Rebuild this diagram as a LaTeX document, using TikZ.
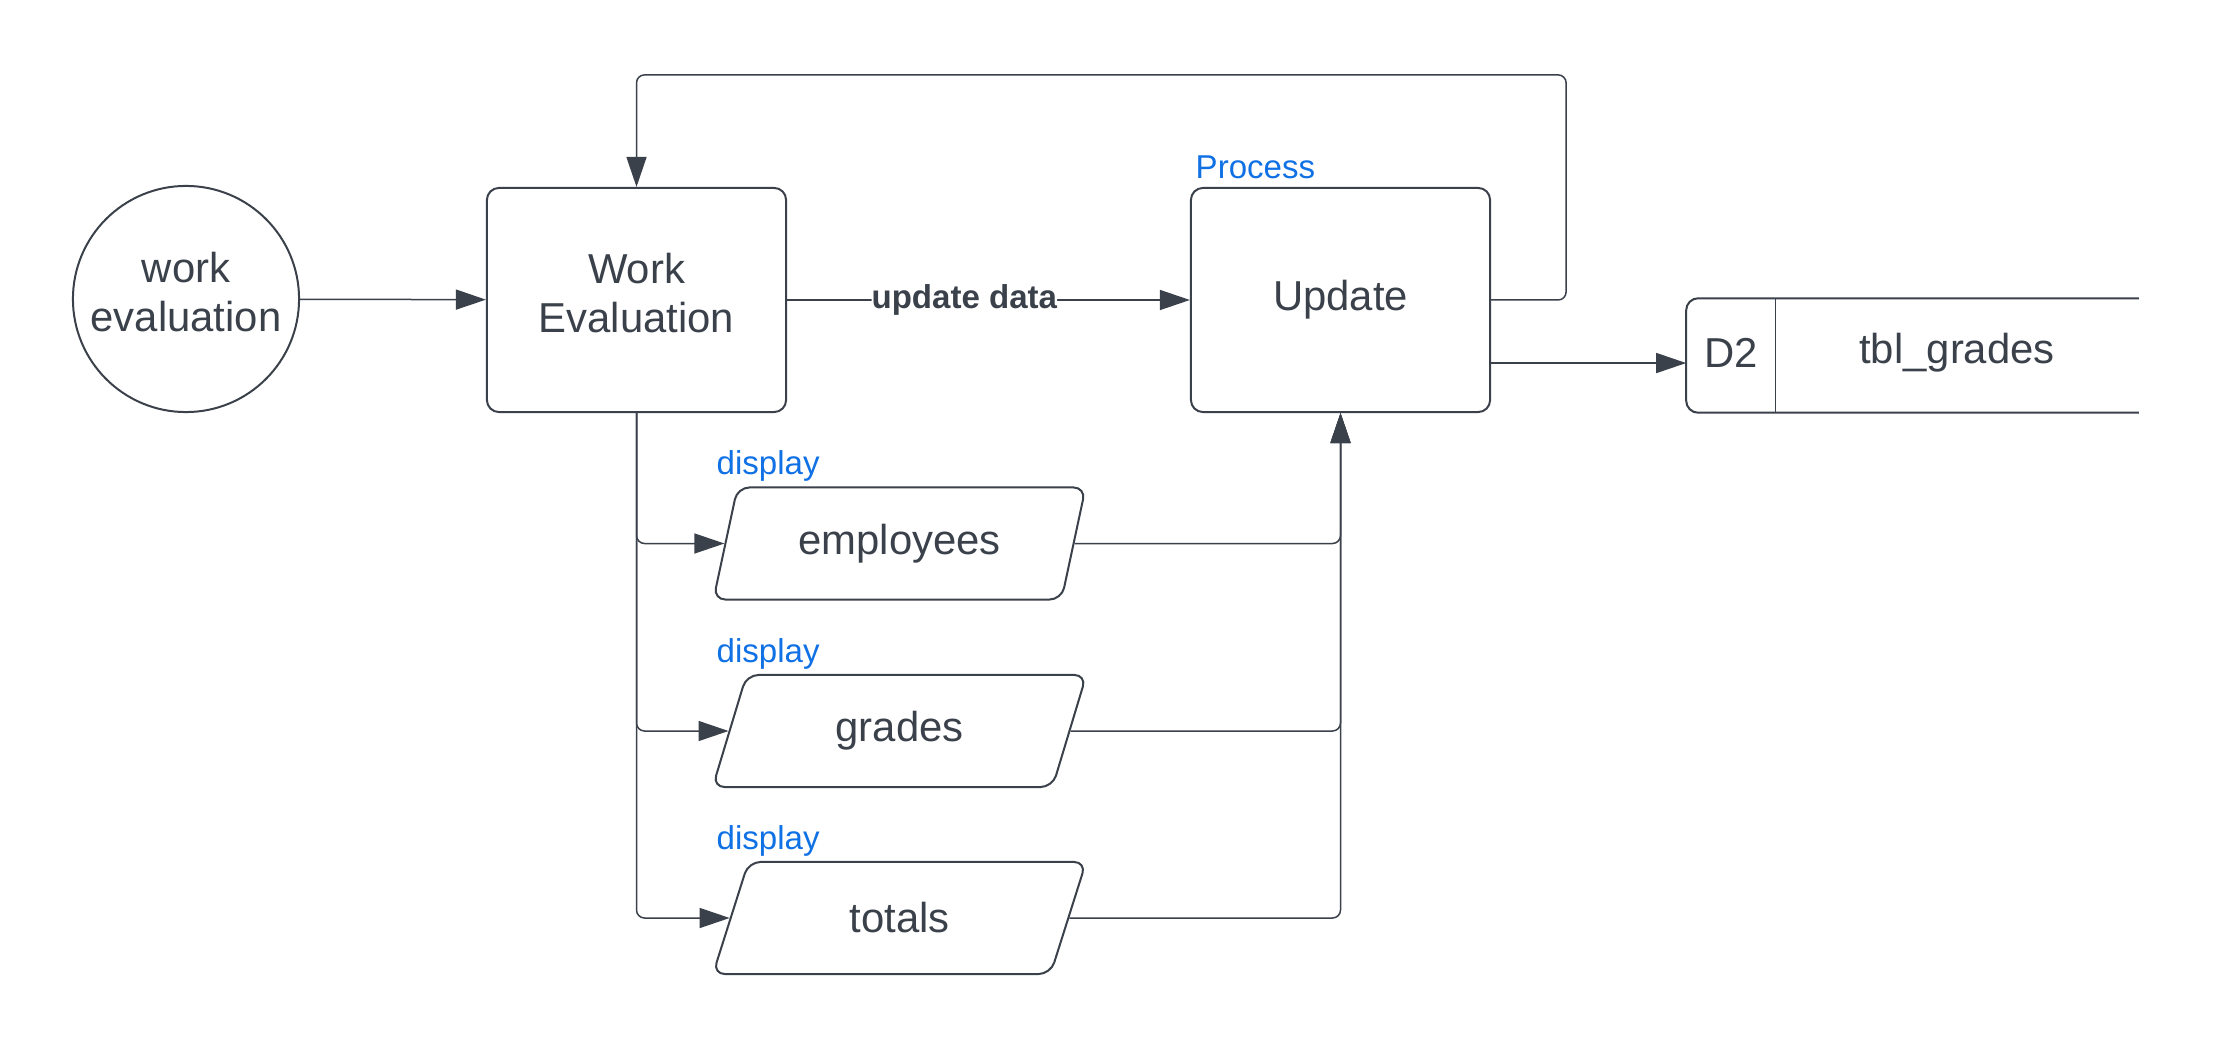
\documentclass[tikz,border=0pt]{standalone}
\usepackage{fontspec}
\setmainfont{Liberation Sans}
\usetikzlibrary{arrows.meta,shapes.geometric}
\definecolor{ink}{HTML}{3A414A}
\definecolor{lblue}{HTML}{1071E5}
\tikzset{
  txt/.style={text=ink,font=\fontsize{11.9}{13.9}\selectfont},
  proc/.style={txt,draw=ink,line width=0.2mm,rounded corners=1.2mm,
    minimum width=29.9mm,minimum height=22.4mm,align=center},
  iobox/.style={txt,trapezium,trapezium left angle=75,trapezium right angle=105,
    trapezium stretches=true,draw=ink,line width=0.2mm,rounded corners=1.2mm,
    minimum width=37.4mm,minimum height=11.2mm},
  flow/.style={draw=ink,line width=0.15mm,rounded corners=0.8mm,
    -{Triangle[length=3mm,width=2mm]}},
  tag/.style={text=lblue,font=\fontsize{9.4}{11}\selectfont,anchor=west,inner sep=0pt}
}
\begin{document}
\begin{tikzpicture}[x=0.01cm,y=-0.01cm]
  \useasboundingbox (0,0) rectangle (2213,1052);
  % entity and processes
  \node[txt,circle,draw=ink,line width=0.2mm,minimum size=22.6mm,inner sep=0pt,align=center,text depth=1.4mm] (src) at (186,299) {work\\evaluation};
  \node[proc,text depth=1.4mm] (we) at (636.5,300) {Work\\Evaluation};
  \node[proc] (upd) at (1340.5,300) {Update};
  \node[tag] at (1195,167) {Process};
  % displays
  \node[iobox] (emp) at (899.5,543.5) {employees};
  \node[iobox] (grd) at (899.5,731) {grades};
  \node[iobox] (tot) at (899.5,918) {totals};
  \node[tag] at (716,466) {display};
  \node[tag] at (716,654) {display};
  \node[tag] at (716,841) {display};
  % data store
  \node[minimum width=45.1mm,minimum height=11.3mm,inner sep=0pt] (st) at (1912.5,355.5) {};
  \draw[ink,line width=0.2mm,rounded corners=1.2mm] (st.north east) -- (st.north west) -- (st.south west) -- (st.south east);
  \draw[ink,line width=0.15mm] ([xshift=8.9mm]st.north west) -- ([xshift=8.9mm]st.south west);
  \node[txt] (d2) at (1731.5,353) {D2};
  \node[txt] (tbl) at (1957,353) {tbl\_grades};
  % flows
  \draw[flow] (src) -- (we);
  \draw[flow] (we) -- node[pos=0.44,fill=white,inner sep=0pt,text=ink,font=\bfseries\fontsize{9.4}{11}\selectfont] {update data} (upd);
  \draw[flow] (upd.east) -- ++(75,0) |- ([yshift=11.2mm]we.north) -- (we.north);
  \coordinate (u2) at ([yshift=-6.3mm]upd.east);
  \draw[flow] (u2) -- (u2 -| st.west);
  \foreach \n in {emp,grd,tot} {
    \draw[flow] (we.south) |- (\n.left side);
    \draw[flow] (\n.right side) -| (upd.south);
  }
\end{tikzpicture}
\end{document}
